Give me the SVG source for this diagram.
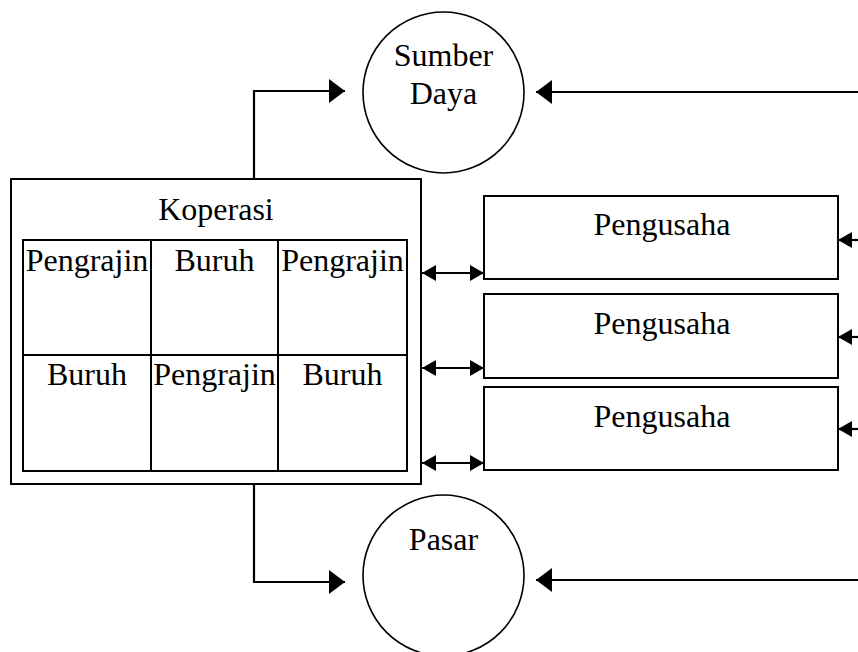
<svg xmlns="http://www.w3.org/2000/svg" width="858" height="652" viewBox="0 0 858 652">
<style>
  text { font-family: "Liberation Serif", "Times New Roman", serif; font-size: 32px; fill: #000; text-anchor: middle; }
  .box { fill: #fff; stroke: #000; stroke-width: 2; }
  .circ { fill: #fff; stroke: #000; stroke-width: 1.6; }
  .grid { fill: none; stroke: #000; stroke-width: 2; }
  .conn { fill: none; stroke: #000; stroke-width: 2.2; }
</style>
<defs>
  <marker id="big" viewBox="0 0 16 24" markerWidth="16" markerHeight="24" refX="16" refY="12" markerUnits="userSpaceOnUse" orient="auto-start-reverse">
    <path d="M0,0 L16,12 L0,24 Z" fill="#000"/>
  </marker>
  <marker id="small" viewBox="0 0 14 16" markerWidth="14" markerHeight="16" refX="14" refY="8" markerUnits="userSpaceOnUse" orient="auto-start-reverse">
    <path d="M0,0 L14,8 L0,16 Z" fill="#000"/>
  </marker>
</defs>
<rect width="858" height="652" fill="#fff"/>

<g id="connectors">
  <path class="conn" d="M254,179 V91 H345" marker-end="url(#big)"/>
  <path class="conn" d="M858,92 H536" marker-end="url(#big)"/>
  <path class="conn" d="M254,484 V582 H345" marker-end="url(#big)"/>
  <path class="conn" d="M858,580 H536" marker-end="url(#big)"/>
  <path class="conn" d="M422,273 H484" marker-start="url(#small)" marker-end="url(#small)"/>
  <path class="conn" d="M422,368 H484" marker-start="url(#small)" marker-end="url(#small)"/>
  <path class="conn" d="M422,463 H484" marker-start="url(#small)" marker-end="url(#small)"/>
  <path class="conn" d="M858,240 H838" marker-end="url(#small)"/>
  <path class="conn" d="M858,337 H838" marker-end="url(#small)"/>
  <path class="conn" d="M858,429 H838" marker-end="url(#small)"/>
</g>

<g id="sumber-daya">
  <circle class="circ" cx="443.5" cy="92.5" r="80.5"/>
  <text x="443.5" y="66">Sumber</text>
  <text x="443.5" y="104">Daya</text>
</g>

<g id="pasar">
  <circle class="circ" cx="443.5" cy="575.5" r="80.5"/>
  <text x="443.5" y="550">Pasar</text>
</g>

<g id="koperasi">
  <rect class="box" x="11" y="179" width="410" height="305"/>
  <text x="216" y="220">Koperasi</text>
  <rect class="grid" x="23" y="240" width="384" height="231"/>
  <line class="grid" x1="151" y1="240" x2="151" y2="471"/>
  <line class="grid" x1="278" y1="240" x2="278" y2="471"/>
  <line class="grid" x1="23" y1="355" x2="407" y2="355"/>
  <text x="87" y="271">Pengrajin</text>
  <text x="214.5" y="271">Buruh</text>
  <text x="342.5" y="271">Pengrajin</text>
  <text x="87" y="385">Buruh</text>
  <text x="214.5" y="385">Pengrajin</text>
  <text x="342.5" y="385">Buruh</text>
</g>

<g id="pengusaha-1">
  <rect class="box" x="484" y="196" width="354" height="83"/>
  <text x="662" y="235">Pengusaha</text>
</g>
<g id="pengusaha-2">
  <rect class="box" x="484" y="294" width="354" height="84"/>
  <text x="662" y="334">Pengusaha</text>
</g>
<g id="pengusaha-3">
  <rect class="box" x="484" y="387" width="354" height="83"/>
  <text x="662" y="427">Pengusaha</text>
</g>
</svg>
